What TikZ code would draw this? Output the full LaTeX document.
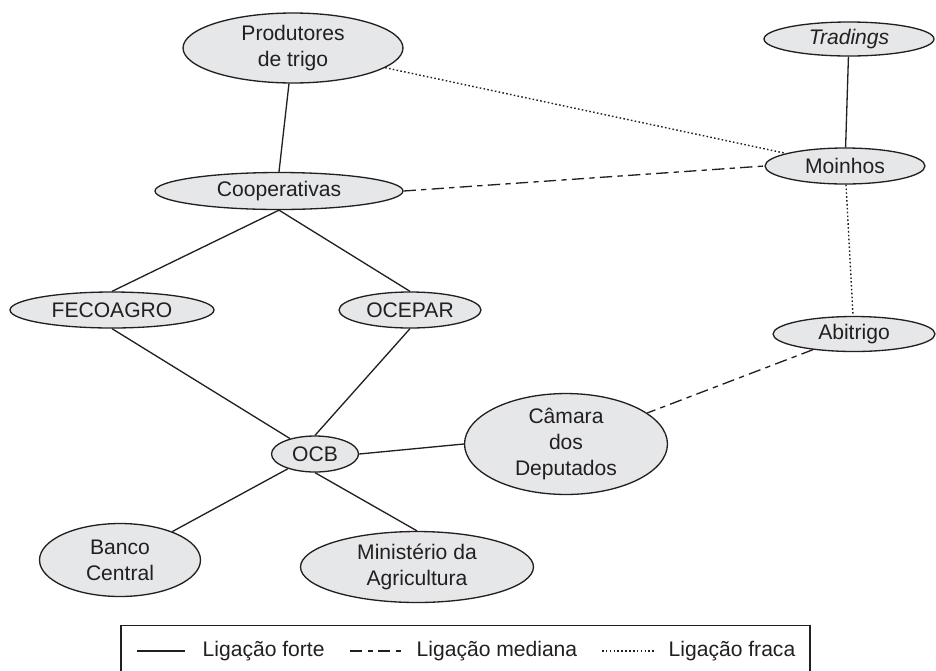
\documentclass[tikz,border=0pt]{standalone}
\usepackage{fontspec}
\setmainfont{Liberation Sans}
\usepackage{tikz}
\usetikzlibrary{shapes.geometric}
\usetikzlibrary{positioning}
\definecolor{fundo}{HTML}{E6E7E8}
\definecolor{tinta}{HTML}{231F20}
\tikzset{actor/.style={draw=tinta, ellipse, inner sep=0pt, fill=fundo, text=tinta, align=center, line width=0.75pt, font=\fontsize{12}{14.7}\selectfont}}
\tikzset{connect/.style={draw=tinta, line width=0.75pt}}
\tikzset{forte/.style={connect}}
\tikzset{mediana/.style={connect, dash pattern=on 7pt off 3pt on 3pt off 3pt}}
\tikzset{fraca/.style={connect, line width=0.8pt, dash pattern=on 0.9pt off 1.3pt}}
\tikzset{rotulo/.style={text=tinta, font=\fontsize{12}{14}\selectfont, inner sep=0pt}}

\begin{document}
\begin{tikzpicture}[x=0.02cm,y=-0.02cm]
\useasboundingbox (0,0) rectangle (936,670);

%actors
\node[actor,minimum width=4.4cm,minimum height=1.4cm] (produtores) at (293,48) {Produtores\\de trigo};
\node[actor,minimum width=3.4cm,minimum height=0.68cm] (tradings) at (849,39) {\itshape Tradings};
\node[actor,minimum width=3.2cm,minimum height=0.72cm] (moinhos) at (845,166) {Moinhos};
\node[actor,minimum width=4.96cm,minimum height=0.74cm] (coop) at (279,191) {Cooperativas};
\node[actor,minimum width=4.08cm,minimum height=0.72cm] (fecoagro) at (112,310) {FECOAGRO};
\node[actor,minimum width=2.84cm,minimum height=0.72cm] (ocepar) at (410,310) {OCEPAR};
\node[actor,minimum width=3.24cm,minimum height=0.7cm] (abitrigo) at (854,334) {Abitrigo};
\node[actor,minimum width=1.74cm,minimum height=0.72cm] (ocb) at (315,454) {OCB};
\node[actor,minimum width=4.06cm,minimum height=1.92cm] (camara) at (566,444) {Câmara\\dos\\Deputados};
\node[actor,minimum width=3.22cm,minimum height=1.46cm] (banco) at (120,560) {Banco\\Central};
\node[actor,minimum width=4.66cm,minimum height=1.42cm] (ministerio) at (417,567) {Ministério da\\Agricultura};

%ligacoes fortes
\path[forte] (produtores) -- (coop.north);
\path[forte] (tradings) -- (moinhos);
\path[forte] (coop.south) -- (fecoagro.north);
\path[forte] (coop.south) -- (ocepar.north);
\path[forte] (fecoagro.south) -- (ocb);
\path[forte] (ocepar.south) -- (ocb.north);
\path[forte] (ocb.east) -- (camara.west);
\path[forte] (ocb) -- (banco);
\path[forte] (ocb.south) -- (ministerio.north);

%ligacoes medianas e fracas
\path[fraca] (produtores) -- (moinhos);
\path[mediana] (coop.east) -- (moinhos.west);
\path[fraca] (moinhos) -- (abitrigo);
\path[mediana] (abitrigo) -- (camara);

%legenda
\node[draw=tinta, line width=0.75pt, minimum width=13.78cm, minimum height=0.98cm, inner sep=0pt] (legenda) at (465.5,650) {};
\coordinate (fa) at (137,651);
\coordinate (fb) at (185,651);
\coordinate (ma) at (350,651);
\coordinate (mb) at (402,651);
\coordinate (ra) at (602,651);
\coordinate (rb) at (655,651);
\path[forte] (fa) -- (fb) node[right=0.34cm, rotulo]{Ligação forte};
\path[mediana] (ma) -- (mb) node[right=0.28cm, rotulo]{Ligação mediana};
\path[fraca] (ra) -- (rb) node[right=0.26cm, rotulo]{Ligação fraca};

\end{tikzpicture}
\end{document}
